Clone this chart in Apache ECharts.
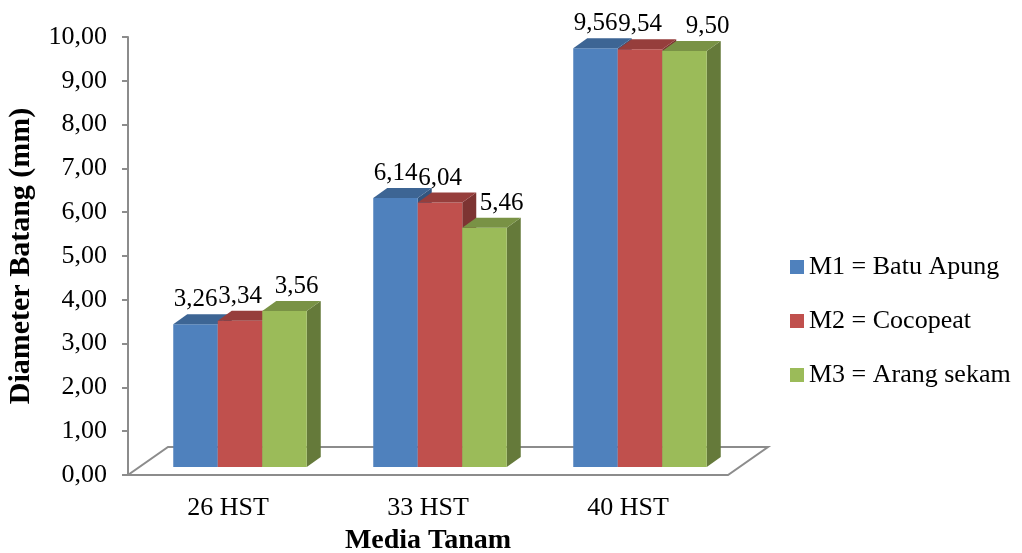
<!DOCTYPE html>
<html>
<head>
<meta charset="utf-8">
<script src="https://cdn.jsdelivr.net/npm/echarts@6/dist/echarts.min.js"></script>
<style>
  html, body { margin: 0; padding: 0; background: #ffffff; }
  #chart { width: 1022px; height: 553px; }
</style>
</head>
<body>
<div id="chart"></div>
<script>
// Stem diameter per growing medium at each observation day
const categories = ['26 HST', '33 HST', '40 HST'];
const seriesNames = ['M1 = Batu Apung', 'M2 = Cocopeat', 'M3 = Arang sekam'];
const m1Values = [3.26, 6.14, 9.56];
const m2Values = [3.34, 6.04, 9.54];
const m3Values = [3.56, 5.46, 9.50];

const FONT = '"Liberation Serif", "Times New Roman", serif';
const frontColors = ['#4F81BD', '#C0504D', '#9BBB59'];
const topColors = ['#3D6594', '#963E3C', '#799245'];
const sideColors = ['#33557E', '#7D3432', '#657A3A'];

// pseudo-3D geometry (pixels)
const BAR_DX = 14, BAR_DY = 10;       // bar depth
const FLOOR_DX = 40, FLOOR_DY = 28;   // floor depth
const SHIFT_X = 12, SHIFT_Y = 8;      // bars sit slightly behind the front plane
const BAR_RATIO = 0.2225;             // bar width as share of category band
// horizontal nudge of value labels (per series, per category) to keep them apart
const LABEL_NUDGE = [[0, 0, 0], [0, 0, 0], [12, 17, 23]];

const fmt = v => v.toFixed(2).replace('.', ',');

function barRenderer(k) {
  return function (params, api) {
    const cat = api.value(0);
    const val = api.value(1);
    const top = api.coord([cat, val]);
    const base = api.coord([cat, 0]);
    const band = api.size([1, 0])[0];
    const w = band * BAR_RATIO;
    const x0 = top[0] + (k - 1.5) * w + SHIFT_X;
    const yT = top[1] - SHIFT_Y;
    const yB = base[1] - SHIFT_Y;
    return {
      type: 'group',
      children: [
        {
          type: 'polygon',
          shape: { points: [[x0 + w, yT], [x0 + w + BAR_DX, yT - BAR_DY], [x0 + w + BAR_DX, yB - BAR_DY], [x0 + w, yB]] },
          style: { fill: sideColors[k] }
        },
        {
          type: 'rect',
          shape: { x: x0, y: yT, width: w, height: yB - yT },
          style: { fill: frontColors[k] }
        },
        {
          type: 'polygon',
          shape: { points: [[x0, yT], [x0 + w, yT], [x0 + w + BAR_DX, yT - BAR_DY], [x0 + BAR_DX, yT - BAR_DY]] },
          style: { fill: topColors[k] }
        },
        {
          type: 'text',
          style: {
            text: fmt(val),
            x: x0 + w / 2 + LABEL_NUDGE[k][params.dataIndex],
            y: yT - 12,
            align: 'center',
            verticalAlign: 'bottom',
            font: '25px ' + FONT,
            fill: '#000000'
          }
        }
      ]
    };
  };
}

function floorRenderer(params, api) {
  const cs = params.coordSys;
  const xl = cs.x, xr = cs.x + cs.width, yb = cs.y + cs.height;
  return {
    type: 'polygon',
    shape: { points: [[xl, yb], [xr, yb], [xr + FLOOR_DX, yb - FLOOR_DY], [xl + FLOOR_DX, yb - FLOOR_DY]] },
    style: { fill: '#ffffff', stroke: '#8c8c8c', lineWidth: 2 }
  };
}

const valueLists = [m1Values, m2Values, m3Values];
const barSeries = valueLists.map((vals, k) => ({
  name: seriesNames[k],
  type: 'custom',
  renderItem: barRenderer(k),
  data: vals.map((v, i) => [i, v]),
  itemStyle: { color: frontColors[k] },
  clip: false,
  z: 3
}));

const chart = echarts.init(document.getElementById('chart'));
chart.setOption({
  animation: false,
  backgroundColor: '#ffffff',
  grid: { left: 128, right: 294, top: 37, bottom: 78, containLabel: false, outerBoundsMode: 'none' },
  legend: {
    data: seriesNames,
    orient: 'vertical',
    left: 790,
    top: 254,
    padding: 0,
    icon: 'rect',
    itemWidth: 14,
    itemHeight: 14,
    itemGap: 28,
    textStyle: { fontFamily: FONT, fontSize: 26, color: '#000000' }
  },
  xAxis: {
    type: 'category',
    data: categories,
    axisLine: { show: false },
    axisTick: { show: false },
    axisLabel: { margin: 20, fontFamily: FONT, fontSize: 26, color: '#000000' },
    name: 'Media Tanam',
    nameLocation: 'middle',
    nameGap: 52,
    nameTextStyle: { fontFamily: FONT, fontSize: 28, fontWeight: 'bold', color: '#000000' }
  },
  yAxis: {
    type: 'value',
    min: 0,
    max: 10,
    interval: 1,
    axisLine: { show: true, lineStyle: { color: '#8c8c8c', width: 2 } },
    axisTick: { show: true, length: 6, lineStyle: { color: '#8c8c8c', width: 2 } },
    splitLine: { show: false },
    axisLabel: { margin: 21, fontFamily: FONT, fontSize: 26, color: '#000000', formatter: fmt },
    name: 'Diameter Batang (mm)',
    nameLocation: 'middle',
    nameRotate: 90,
    nameGap: 92,
    nameTextStyle: { fontFamily: FONT, fontSize: 30, fontWeight: 'bold', color: '#000000' }
  },
  series: [
    {
      name: 'floor',
      type: 'custom',
      renderItem: floorRenderer,
      data: [[0, 0]],
      clip: false,
      silent: true,
      z: 1
    }
  ].concat(barSeries)
});
</script>
</body>
</html>
